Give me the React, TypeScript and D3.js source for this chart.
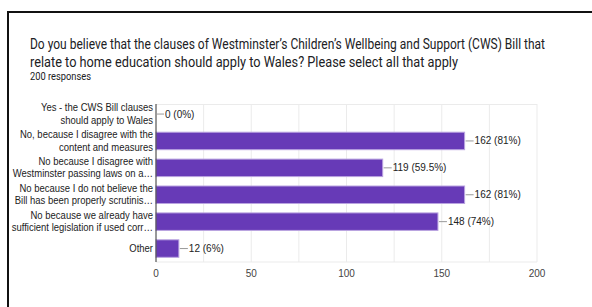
import React, { useEffect, useRef } from 'react';
import * as d3 from 'd3';

const categories = [
  ['Yes - the CWS Bill clauses', 'should apply to Wales'],
  ['No, because I disagree with the', 'content and measures'],
  ['No because I disagree with', 'Westminster passing laws on a…'],
  ['No because I do not believe the', 'Bill has been properly scrutinis…'],
  ['No because we already have', 'sufficient legislation if used corr…'],
  ['Other'],
];
const counts = [0, 162, 119, 162, 148, 12];
const pctLabels = ['0%', '81%', '59.5%', '81%', '74%', '6%'];
const xTicks = [0, 50, 100, 150, 200];
const gridTicks = [0, 25, 50, 75, 100, 125, 150, 175, 200];

const App = () => {
  const svgRef = useRef<SVGSVGElement>(null);

  useEffect(() => {
    const svg = d3.select(svgRef.current);
    svg.selectAll('*').remove();

    const width = 592;
    const height = 307;
    const font = 'Roboto, Arial, sans-serif';

    svg.append('rect').attr('width', width).attr('height', height).attr('fill', '#fff');

    // frame
    svg.append('line').attr('x1', 7).attr('x2', width).attr('y1', 12).attr('y2', 12)
      .attr('stroke', '#111').attr('stroke-width', 2);
    svg.append('line').attr('x1', 8).attr('x2', 8).attr('y1', 11).attr('y2', height)
      .attr('stroke', '#111').attr('stroke-width', 2);

    // title (the screenshot is squeezed horizontally, so stretch vertically)
    const titleLines = [
      { text: 'Do you believe that the clauses of Westminster\u2019s Children\u2019s Wellbeing and Support (CWS) Bill that', y: 49, len: 515 },
      { text: 'relate to home education should apply to Wales? Please select all that apply', y: 67, len: 428 },
    ];
    titleLines.forEach(l => {
      svg.append('g').attr('transform', `translate(30,${l.y}) scale(1,1.22)`)
        .append('text').attr('x', 0).attr('y', 0)
        .attr('textLength', l.len).attr('lengthAdjust', 'spacingAndGlyphs')
        .style('font-family', font).style('font-size', '12.6px').attr('fill', '#202124')
        .text(l.text);
    });
    svg.append('text').attr('x', 30).attr('y', 79.5)
      .attr('textLength', 61).attr('lengthAdjust', 'spacingAndGlyphs')
      .style('font-family', font).style('font-size', '10px').attr('fill', '#202124')
      .text('200 responses');

    const x = d3.scaleLinear().domain([0, 200]).range([156, 537]);
    const y = d3.scaleBand<number>().domain(d3.range(categories.length))
      .range([100.6, 262]).paddingInner(0.35).paddingOuter(0.175);

    const lab = 'Arial, "Liberation Sans", sans-serif';

    // grid
    svg.append('g').selectAll('line').data(gridTicks).enter().append('line')
      .attr('x1', d => x(d)).attr('x2', d => x(d)).attr('y1', 104).attr('y2', 262)
      .attr('stroke', d => (d === 0 ? 'none' : '#ebebeb')).attr('stroke-width', 1);
    svg.append('line').attr('x1', 156).attr('x2', 537).attr('y1', 104.5).attr('y2', 104.5)
      .attr('stroke', '#ebebeb');
    svg.append('line').attr('x1', 156).attr('x2', 537).attr('y1', 262).attr('y2', 262)
      .attr('stroke', '#ebebeb');

    // bars
    svg.append('g').selectAll('rect').data(counts).enter().append('rect')
      .attr('x', x(0))
      .attr('y', (d, i) => y(i)!)
      .attr('width', d => x(d) - x(0))
      .attr('height', y.bandwidth())
      .attr('fill', '#673ab7')
      .attr('stroke', d => (d > 0 ? '#b9a3e0' : 'none'))
      .attr('stroke-width', 1);

    // axis line
    svg.append('line').attr('x1', 156).attr('x2', 156).attr('y1', 104).attr('y2', 262)
      .attr('stroke', '#333').attr('stroke-width', 1);

    // value labels
    counts.forEach((d, i) => {
      const cy = y(i)! + y.bandwidth() / 2;
      const x0 = x(d) + (d > 0 ? 1 : 0);
      svg.append('line').attr('x1', x0).attr('x2', x0 + 8).attr('y1', cy).attr('y2', cy)
        .attr('stroke', '#999');
      svg.append('text').attr('x', x0 + 9).attr('y', cy).attr('dy', '0.35em')
        .style('font-family', lab).style('font-size', '10px').attr('fill', '#222')
        .text(`${d} (${pctLabels[i]})`);
    });

    // category labels
    const labG = svg.append('g').attr('transform', 'translate(153,0) scale(0.95,1)');
    categories.forEach((lines, i) => {
      const cy = y(i)! + y.bandwidth() / 2;
      const t = labG.append('text').attr('text-anchor', 'end')
        .style('font-family', lab).style('font-size', '10px').attr('fill', '#222');
      lines.forEach((ln, j) => {
        t.append('tspan').attr('x', 0)
          .attr('y', cy + (j - (lines.length - 1) / 2) * 12.2)
          .attr('dy', '0.35em').text(ln);
      });
    });

    // x tick labels
    svg.append('g').selectAll('text').data(xTicks).enter().append('text')
      .attr('x', d => x(d)).attr('y', 277).attr('text-anchor', 'middle')
      .style('font-family', lab).style('font-size', '10px').attr('fill', '#444')
      .text(d => d);
  }, []);

  return (
    <svg ref={svgRef} width={592} height={307}
      style={{ position: 'absolute', left: 0, top: 0, display: 'block' }} />
  );
};

export default App;
